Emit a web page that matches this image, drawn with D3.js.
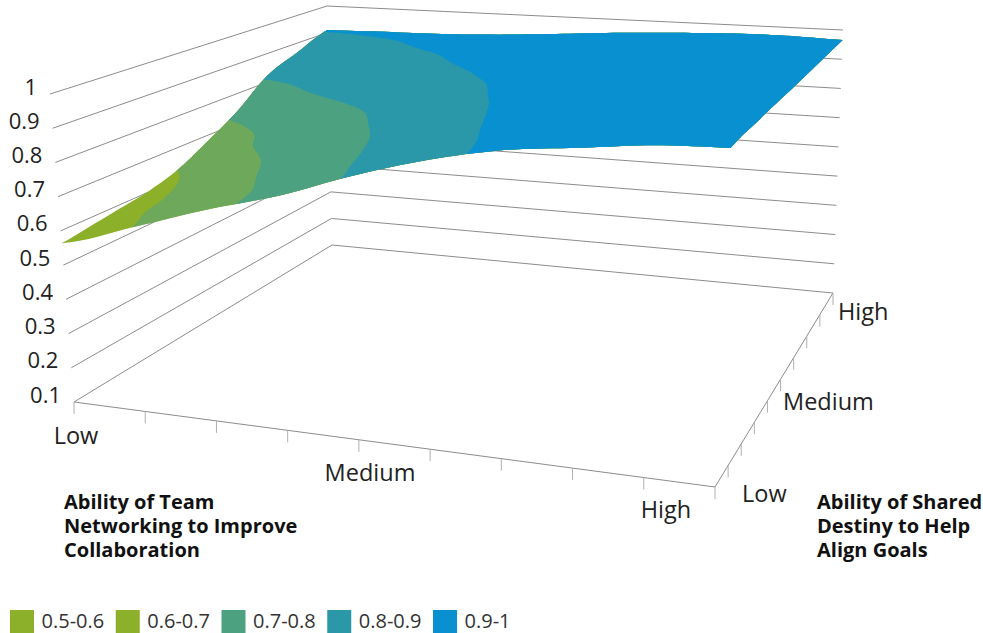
<!DOCTYPE html>
<html><head><meta charset="utf-8">
<script src="https://cdn.jsdelivr.net/npm/d3@7"></script>
<style>html,body{margin:0;padding:0;background:#fff}svg{display:block}</style>
</head><body><svg id="c" width="983" height="633"></svg>
<script>
// ---- data ----
const zTicks = [0.1,0.2,0.3,0.4,0.5,0.6,0.7,0.8,0.9,1];
const axisSteps = [0,1,2,3,4,5,6,7,8,9];
const teamLabels = ["Low","Medium","High"];
const destinyLabels = ["Low","Medium","High"];
const teamTitle = ["Ability of Team","Networking to Improve","Collaboration"];
const destinyTitle = ["Ability of Shared","Destiny to Help","Align Goals"];
const bandNames = ["0.5-0.6","0.6-0.7","0.7-0.8","0.8-0.9","0.9-1"];
const bandFloors = [0.5,0.6,0.7,0.8,0.9];
const bandColors = ["#8db02b","#6ea85a","#4ca280","#2a98a8","#0890d0"];
const legendColors = ["#8db02b","#8db02b","#4ca280","#2a98a8","#0890d0"];
// surface value per destiny step (rows), per team step (columns)
const destiny0 = [.530,.602,.675,.737,.814,.876,.919,.940,.961,.967];
const destiny1 = [.543,.619,.681,.754,.824,.882,.925,.945,.960,.970];
const destiny2 = [.557,.631,.702,.770,.833,.893,.930,.948,.962,.968];
const destiny3 = [.573,.654,.723,.785,.846,.903,.935,.950,.962,.968];
const destiny4 = [.604,.691,.750,.807,.862,.915,.940,.953,.963,.967];
const destiny5 = [.658,.722,.778,.831,.883,.930,.947,.957,.965,.965];
const destiny6 = [.722,.788,.831,.868,.906,.930,.950,.960,.966,.965];
const destiny7 = [.809,.840,.870,.900,.925,.945,.957,.964,.968,.964];
const destiny8 = [.856,.878,.900,.912,.930,.948,.958,.966,.969,.964];
const destiny9 = [.903,.907,.910,.919,.933,.948,.959,.967,.969,.963];
const zRows = [destiny0,destiny1,destiny2,destiny3,destiny4,destiny5,destiny6,destiny7,destiny8,destiny9];

// ---- view box of the 3D chart (screen corners) ----
const floorC = {a:[74,402],b:[715,487],c:[833,293],d:[332,245]};
const roofC  = {a:[50,94], b:[731,136],c:[843,30], d:[327,6]};

const teamS = d3.scaleLinear().domain([0,9]).range([0,1]);
const destS = d3.scaleLinear().domain([0,9]).range([0,1]);
const wallZ = d3.scaleLinear().domain([0.1,1]).range([0,1]);
const surfZ = d3.scaleLinear().domain([0.03,1]).range([0,1]);

const mix=(p,q,k)=>[p[0]+(q[0]-p[0])*k,p[1]+(q[1]-p[1])*k];
function plane(C,t,s){return mix(mix(C.a,C.b,t),mix(C.d,C.c,t),s);}
function project(t,s,w){return mix(plane(floorC,t,s),plane(roofC,t,s),w);}

const svg=d3.select("#c");
const FONT="'Open Sans',sans-serif";

// ---- walls ----
const lineGen=d3.line();
const gWall=svg.append("g").attr("fill","none").attr("stroke","#8c8c8c").attr("stroke-width",1);
zTicks.forEach(v=>{
  const w=wallZ(v);
  gWall.append("path").attr("d",lineGen([project(0,0,w),project(0,1,w),project(1,1,w)]));
});
gWall.append("path").attr("d",lineGen([project(0,0,0),project(1,0,0),project(1,1,0)]));

// ---- ticks ----
const gTick=svg.append("g").attr("stroke","#b0b0b0").attr("stroke-width",1);
axisSteps.forEach(i=>{
  const p=project(teamS(i),0,0);
  gTick.append("line").attr("x1",p[0]).attr("x2",p[0]).attr("y1",p[1]).attr("y2",p[1]+12);
  if(i>0){const q=project(1,destS(i),0);
  gTick.append("line").attr("x1",q[0]).attr("x2",q[0]).attr("y1",q[1]).attr("y2",q[1]+12);}
});

// ---- surface: smooth resample for drawing, then contour bands ----
const K=8, N=9*K+1;
function cr(a,b,c,d,u){return 0.5*((2*b)+(c-a)*u+(2*a-5*b+4*c-d)*u*u+(3*b-a-3*c+d)*u*u*u);}
const at=(r,c)=>zRows[Math.max(0,Math.min(9,r))][Math.max(0,Math.min(9,c))];
function sample(gi,gj){
  const i=Math.min(8,Math.floor(gi)),j=Math.min(8,Math.floor(gj)),u=gi-i,v=gj-j;
  const col=[];
  for(let r=-1;r<=2;r++) col.push(cr(at(j+r,i-1),at(j+r,i),at(j+r,i+1),at(j+r,i+2),u));
  return cr(col[0],col[1],col[2],col[3],v);
}
const fine=new Array(N*N);
for(let y=0;y<N;y++)for(let x=0;x<N;x++)fine[y*N+x]=sample(x/K,y/K);
const contours=d3.contours().size([N,N]).smooth(true);
const gSurf=svg.append("g");
bandFloors.forEach((thr,idx)=>{
  const geo=contours.contour(fine,thr);
  let d="";
  geo.coordinates.forEach(poly=>poly.forEach(ring=>{
    const pts=ring.map(([cx,cy])=>{
      const gx=Math.max(0,Math.min(N-1,cx-.5))/K, gy=Math.max(0,Math.min(N-1,cy-.5))/K;
      return project(teamS(gx),destS(gy),surfZ(sample(gx,gy)));
    });
    d+=lineGen(pts)+"Z";
  }));
  gSurf.append("path").attr("d",d).attr("fill",bandColors[idx]);
});

// ---- text ----
const ink="#222";
function txt(x,y,s,o={}){
  return svg.append("text").attr("x",x).attr("y",y).text(s)
    .attr("font-family",o.f||FONT).attr("font-size",o.size||23.5)
    .attr("font-weight",o.w||400).attr("fill",o.c||ink)
    .attr("text-anchor",o.a||"start");
}
function block(x,y,lines,lead,o){
  const t=txt(x,y,"",o);
  lines.forEach((s,k)=>t.append("tspan").attr("x",x).attr("y",y+lead*k).text(s));
}
zTicks.forEach(v=>{
  const p=project(0,0,wallZ(v));
  txt(p[0]-13,p[1]+0.5,String(v),{a:"end",size:22});
});
const teamPos=[[76,444],[370,480.5],[666,518]];
teamLabels.forEach((s,k)=>txt(teamPos[k][0],teamPos[k][1],s,{a:"middle"}));
const destPos=[[742,501.5],[783,410],[838,320]];
destinyLabels.forEach((s,k)=>txt(destPos[k][0],destPos[k][1],s));
block(64,509,teamTitle,24,{w:700,size:20,c:"#111"});
block(817,509,destinyTitle,24,{w:700,size:20,c:"#111"});

// ---- legend ----
const legX=d3.scalePoint().domain(bandNames).range([10,433]);
bandNames.forEach((s,k)=>{
  const x=legX(s);
  svg.append("rect").attr("x",x).attr("y",610).attr("width",24).attr("height",23)
    .attr("fill",legendColors[k]);
  txt(x+31.5,628,s,{size:20,c:"#333"});
});
</script></body></html>
